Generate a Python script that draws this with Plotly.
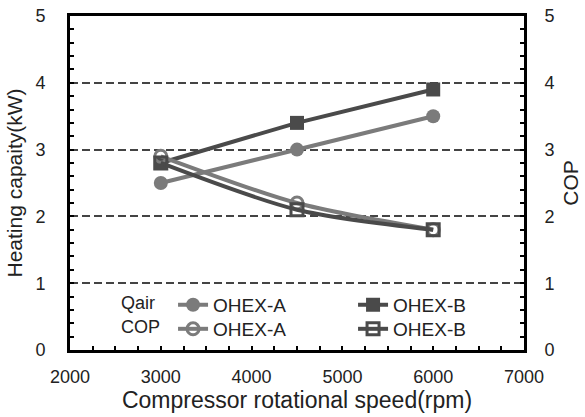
import plotly.graph_objects as go

speed = [3000, 4500, 6000]
qair_a = [2.5, 3.0, 3.5]
qair_b = [2.8, 3.4, 3.9]
cop_a = [2.9, 2.2, 1.8]
cop_b = [2.8, 2.1, 1.8]

x_ticks = [2000, 3000, 4000, 5000, 6000, 7000]
y_ticks = [0, 1, 2, 3, 4, 5]

LIGHT = "#7b7b7b"
DARK = "#4a4a4a"
FONT = "Liberation Sans, Arial, sans-serif"

fig = go.Figure()

fig.add_trace(go.Scatter(
    x=speed, y=qair_a, name="OHEX-A", legend="legend",
    mode="lines+markers", line=dict(color=LIGHT, width=4),
    marker=dict(symbol="circle", size=14, color=LIGHT)))
fig.add_trace(go.Scatter(
    x=speed, y=qair_b, name="OHEX-B", legend="legend",
    mode="lines+markers", line=dict(color=DARK, width=4),
    marker=dict(symbol="square", size=14, color=DARK)))
fig.add_trace(go.Scatter(
    x=speed, y=cop_a, name="OHEX-A", legend="legend2", yaxis="y2",
    mode="lines+markers", line=dict(color=LIGHT, width=4, shape="spline", smoothing=0.8),
    marker=dict(symbol="circle-open", size=12, color=LIGHT, line=dict(width=3))))
fig.add_trace(go.Scatter(
    x=speed, y=cop_b, name="OHEX-B", legend="legend2", yaxis="y2",
    mode="lines+markers", line=dict(color=DARK, width=4, shape="spline", smoothing=0.8),
    marker=dict(symbol="square-open", size=12, color=DARK, line=dict(width=3))))

axis_common = dict(
    showline=True, linecolor="black", linewidth=3,
    ticks="inside", ticklen=4, tickwidth=2, tickcolor="black",
    tickfont=dict(size=18, color="#222"), zeroline=False, automargin=False,
)
minor_y = dict(dtick=0.2, ticks="inside", ticklen=4, tickwidth=2, tickcolor="black")

fig.update_layout(
    width=585, height=417,
    margin=dict(l=70, r=61, t=16, b=67),
    plot_bgcolor="white", paper_bgcolor="white",
    font=dict(family=FONT, color="#222"),
    xaxis=dict(
        range=[2000, 7000], tickvals=x_ticks, showgrid=False,
        mirror=True,
        minor=dict(dtick=250, ticks="inside", ticklen=4, tickwidth=2, tickcolor="black"),
        title=dict(text="Compressor rotational speed(rpm)", font=dict(size=23), standoff=6),
        ticklabelstandoff=8,
        **axis_common),
    yaxis=dict(
        range=[0, 5], tickvals=y_ticks,
        showgrid=True, gridcolor="#444", griddash="8px,4px", gridwidth=2,
        minor=minor_y,
        title=dict(text="Heating capaity(kW)", font=dict(size=21), standoff=8),
        ticklabelstandoff=18,
        **axis_common),
    yaxis2=dict(
        range=[0, 5], tickvals=y_ticks, overlaying="y", side="right",
        showgrid=False, minor=minor_y,
        title=dict(text="COP", font=dict(size=21), standoff=10),
        ticklabelstandoff=14,
        **axis_common),
    legend=dict(
        orientation="h", x=0.108, xanchor="left", y=0.135, yanchor="middle",
        title=dict(text="Qair\u00a0\u00a0", side="left", font=dict(size=18)),
        font=dict(size=19), entrywidth=135, traceorder="normal",
        bgcolor="rgba(0,0,0,0)", itemclick=False),
    legend2=dict(
        orientation="h", x=0.108, xanchor="left", y=0.063, yanchor="middle",
        title=dict(text="COP\u00a0", side="left", font=dict(size=18)),
        font=dict(size=19), entrywidth=135, traceorder="normal",
        bgcolor="rgba(0,0,0,0)", itemclick=False),
)

fig.write_html("out.html")
